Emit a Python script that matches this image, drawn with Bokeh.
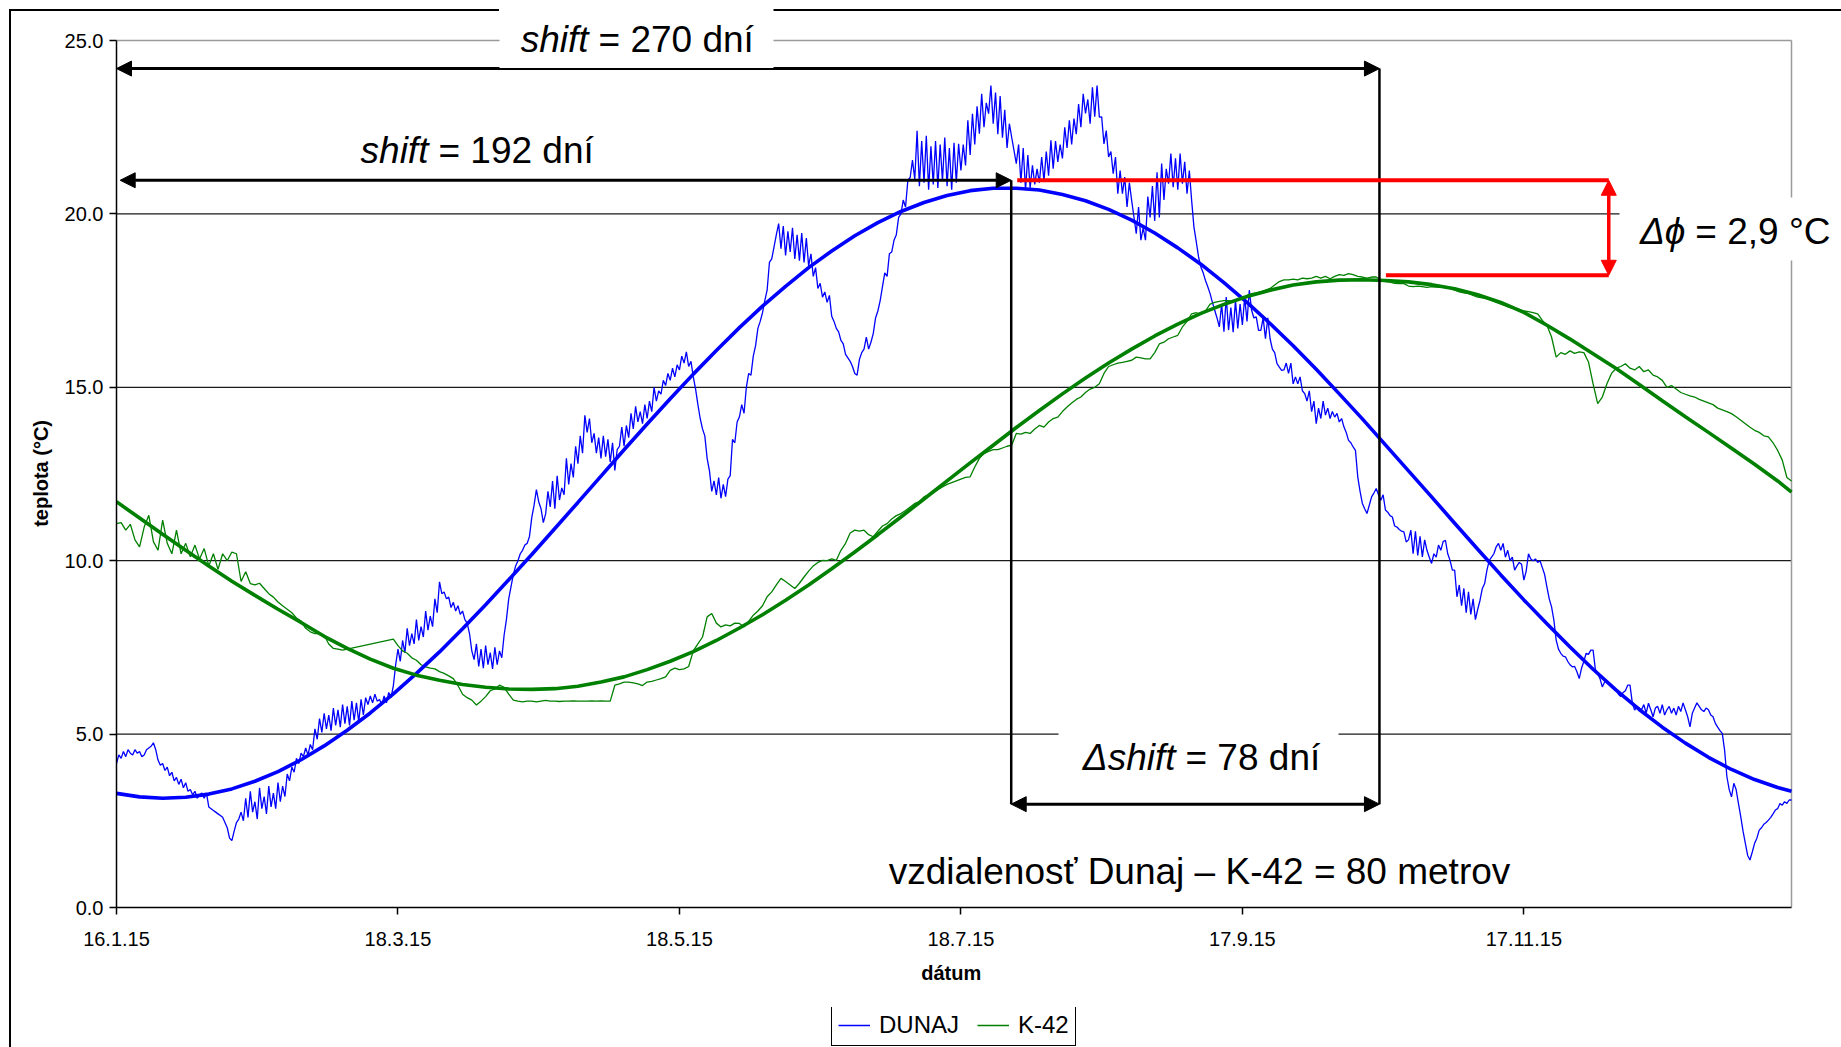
import pandas as pd
from bokeh.plotting import figure
from bokeh.layouts import column
from bokeh.models import (Range1d, FixedTicker, NumeralTickFormatter, BoxAnnotation,
                          Arrow, NormalHead, Label, Legend, LegendItem)
from bokeh.embed import file_html
from bokeh.resources import INLINE

# ---------------- data ----------------
START = pd.Timestamp("2015-01-16")
N_DAYS = 363

x_tick_labels = ["16.1.15", "18.3.15", "18.5.15", "18.7.15", "17.9.15", "17.11.15"]
y_ticks = [0, 5, 10, 15, 20, 25]
grid_levels = [5, 10, 15, 20]
series_names = ["DUNAJ", "K-42"]

# DUNAJ river temperature, one reading every 12 hours (day 0 .. day 363)
dunaj = [
    4.15, 4.40, 4.30, 4.50, 4.35, 4.55, 4.45, 4.40, 4.55, 4.45, 4.50, 4.35, 4.40, 4.55, 4.60, 4.65, 4.75, 4.55, 4.25, 4.10,
    4.15, 3.95, 4.05, 3.80, 3.90, 3.65, 3.75, 3.55, 3.70, 3.45, 3.60, 3.35, 3.40, 3.25, 3.35, 3.15, 3.25, 3.30, 3.15, 3.30,
    2.90, 2.85, 2.80, 2.75, 2.70, 2.65, 2.60, 2.45, 2.30, 2.00, 1.93, 2.20, 2.45, 2.55, 2.75, 2.50, 3.15, 2.60, 3.35, 2.75,
    3.05, 2.55, 3.45, 2.85, 3.20, 2.70, 3.50, 2.90, 3.30, 2.85, 3.60, 3.05, 3.50, 3.20, 3.85, 3.65, 4.05, 3.90, 4.30, 4.15,
    4.45, 4.35, 4.60, 4.40, 4.70, 4.55, 5.15, 4.85, 5.45, 5.05, 5.60, 5.15, 5.55, 5.10, 5.75, 5.25, 5.70, 5.20, 5.85, 5.30,
    5.80, 5.25, 5.95, 5.40, 5.90, 5.35, 6.00, 5.55, 6.05, 5.85, 6.10, 5.90, 6.15, 5.95, 6.00, 5.85, 6.10, 5.90, 6.20, 6.05,
    6.40, 7.00, 7.45, 7.10, 7.70, 7.35, 8.05, 7.55, 7.90, 7.60, 8.30, 7.70, 8.10, 7.80, 8.55, 8.00, 8.40, 8.10, 8.90, 8.50,
    9.39, 9.05, 9.10, 8.90, 8.95, 8.65, 8.80, 8.55, 8.70, 8.45, 8.55, 8.30, 8.20, 7.90, 7.40, 7.15, 7.60, 6.95, 7.45, 6.90,
    7.55, 7.00, 7.35, 6.88, 7.50, 7.00, 7.40, 7.20, 7.85, 8.30, 8.90, 9.25, 9.60, 9.85, 10.00, 10.20, 10.30, 10.45, 10.50, 10.70,
    11.25, 11.60, 12.05, 11.70, 11.50, 11.10, 11.35, 12.00, 11.55, 12.30, 11.50, 12.45, 11.75, 12.10, 11.90, 12.95, 12.20, 12.80, 12.40, 13.30,
    12.80, 13.60, 13.10, 14.19, 13.70, 14.10, 13.40, 13.67, 13.10, 13.55, 12.95, 13.60, 13.00, 13.50, 12.85, 13.40, 12.60, 13.20, 13.30, 13.85,
    13.30, 13.90, 13.55, 14.25, 13.80, 14.45, 14.00, 14.30, 13.95, 14.50, 14.10, 14.60, 14.30, 15.00, 14.60, 14.90, 14.80, 15.20, 15.05, 15.40,
    15.20, 15.55, 15.30, 15.65, 15.50, 15.90, 15.70, 16.02, 15.60, 15.75, 15.30, 14.95, 14.50, 14.10, 13.80, 13.60, 12.95, 12.60, 12.00, 12.30,
    11.90, 12.40, 11.80, 12.20, 11.85, 12.35, 12.45, 13.50, 13.40, 14.00, 14.15, 14.50, 14.25, 15.00, 15.40, 15.35, 15.90, 16.20, 16.70, 16.90,
    17.15, 17.50, 17.80, 18.60, 18.70, 19.05, 19.40, 19.72, 19.00, 19.65, 18.80, 19.50, 18.90, 19.60, 18.70, 19.40, 18.65, 19.45, 18.60, 19.30,
    18.50, 18.85, 18.20, 18.45, 17.85, 18.00, 17.60, 17.75, 17.45, 17.65, 17.05, 16.90, 16.70, 16.60, 16.35, 16.25, 15.95, 15.85, 15.75, 15.60,
    15.40, 15.35, 15.80, 16.00, 16.10, 16.45, 16.10, 16.30, 16.55, 17.00, 17.20, 17.50, 17.90, 18.30, 18.20, 18.85, 18.90, 19.24, 19.40, 19.90,
    20.00, 20.40, 20.20, 20.97, 21.05, 21.55, 21.00, 22.40, 20.80, 22.10, 20.90, 22.25, 20.70, 21.95, 20.85, 22.10, 20.75, 22.00, 20.95, 22.20,
    20.80, 21.90, 20.70, 22.05, 20.90, 22.02, 21.25, 22.00, 21.40, 22.70, 21.70, 22.89, 22.00, 23.10, 22.31, 23.46, 22.50, 23.20, 22.89, 23.70,
    22.60, 23.50, 22.30, 23.40, 22.20, 23.00, 21.90, 22.60, 22.21, 21.83, 21.45, 22.00, 20.90, 21.90, 20.68, 21.70, 20.75, 21.40, 20.85, 21.30,
    20.90, 21.64, 20.95, 21.80, 21.10, 22.12, 21.30, 22.10, 21.50, 22.00, 21.60, 22.50, 21.90, 22.70, 22.00, 22.75, 22.30, 23.17, 22.50, 23.46,
    22.90, 23.30, 22.60, 23.65, 22.80, 23.70, 22.79, 22.80, 22.02, 22.40, 21.64, 21.80, 21.16, 21.64, 20.58, 21.25, 20.58, 21.06, 20.20, 20.90,
    20.39, 19.91, 19.43, 20.20, 19.24, 19.60, 19.24, 20.50, 19.90, 20.80, 19.80, 21.20, 19.90, 21.45, 20.40, 21.30, 20.87, 21.74, 20.77, 21.60,
    20.70, 21.74, 20.87, 21.50, 20.58, 21.25, 20.39, 19.62, 19.20, 18.76, 18.47, 18.30, 18.08, 17.90, 17.70, 17.45, 17.22, 17.00, 16.74, 17.40,
    16.60, 17.60, 16.65, 17.30, 16.59, 17.50, 16.70, 17.40, 16.80, 17.60, 16.90, 17.80, 17.22, 17.00, 17.03, 16.64, 16.64, 17.00, 16.40, 17.00,
    16.40, 16.10, 16.00, 15.68, 15.58, 15.49, 15.50, 15.70, 15.40, 15.70, 15.10, 15.30, 15.10, 15.30, 14.90, 14.82, 14.60, 14.90, 14.30, 14.60,
    13.95, 14.40, 14.10, 14.60, 14.20, 14.40, 14.10, 14.30, 14.14, 14.25, 14.00, 14.10, 13.86, 13.70, 13.47, 13.40, 13.28, 13.18, 12.42, 12.00,
    11.65, 11.50, 11.36, 11.60, 11.84, 11.95, 12.08, 11.90, 11.74, 11.90, 11.46, 11.40, 11.30, 11.26, 11.00, 10.97, 10.90, 10.85, 10.83, 10.54,
    10.60, 10.88, 10.20, 10.85, 10.15, 10.70, 10.11, 10.60, 10.30, 10.10, 9.92, 10.20, 10.10, 10.45, 10.30, 10.55, 10.59, 10.20, 10.01, 9.73,
    9.73, 8.96, 9.30, 8.70, 9.20, 8.50, 9.10, 8.45, 8.90, 8.30, 8.60, 8.86, 9.20, 9.34, 9.73, 10.01, 10.10, 10.20, 10.40, 10.50,
    10.30, 10.50, 10.10, 10.30, 10.00, 10.10, 9.73, 9.85, 9.95, 9.90, 9.44, 9.70, 10.20, 10.05, 10.00, 10.05, 9.95, 10.00, 9.80, 9.60,
    9.24, 8.90, 8.67, 8.29, 7.71, 7.45, 7.33, 7.25, 7.23, 7.10, 7.00, 6.94, 6.95, 6.80, 6.60, 6.90, 7.10, 7.33, 7.30, 7.42,
    7.42, 6.86, 6.75, 6.60, 6.36, 6.50, 6.55, 6.46, 6.35, 6.30, 6.27, 6.15, 6.08, 6.20, 6.25, 6.41, 6.41, 5.90, 5.69, 5.80,
    5.75, 5.70, 5.85, 5.60, 5.89, 5.70, 5.50, 5.75, 5.80, 5.60, 5.85, 5.55, 5.70, 5.80, 5.60, 5.75, 5.55, 5.80, 5.65, 5.90,
    5.70, 5.50, 5.21, 5.60, 5.75, 5.90, 5.80, 5.70, 5.65, 5.75, 5.70, 5.55, 5.50, 5.31, 5.20, 5.10, 5.02, 4.54, 3.77, 3.40,
    3.19, 3.58, 3.40, 3.00, 2.62, 2.20, 1.85, 1.50, 1.37, 1.60, 1.85, 2.00, 2.23, 2.30, 2.40, 2.45, 2.52, 2.60, 2.70, 2.81,
    2.85, 3.00, 2.95, 3.05, 3.00, 3.10, 3.10,
]

# K-42 well temperature, daily; days 0-49, then (after a gap) days 60-363
k42_days = list(range(0, 50)) + list(range(60, 364))
k42 = [
    11.07, 11.10, 10.88, 11.05, 10.60, 10.40, 10.97, 11.31, 10.55, 10.30,
    11.17, 10.50, 10.20, 10.88, 10.20, 10.50, 10.11, 10.45, 10.05, 10.35,
    9.85, 10.20, 9.75, 10.20, 10.00, 10.25, 10.20, 9.40, 9.68, 9.34,
    9.30, 9.35, 9.20, 9.05, 8.95, 8.81, 8.70, 8.60, 8.50, 8.35,
    8.25, 8.05, 7.95, 7.90, 7.90, 7.85, 7.60, 7.47, 7.45, 7.42,
    7.74, 7.55, 7.40, 7.33, 7.20, 7.13, 7.00, 6.94, 6.90, 6.88,
    6.80, 6.75, 6.68, 6.60, 6.40, 6.15, 6.05, 5.98, 5.84, 5.95,
    6.08, 6.25, 6.30, 6.41, 6.35, 6.15, 5.98, 5.95, 5.93, 5.95,
    5.95, 5.93, 5.95, 5.97, 5.95, 5.95, 5.94, 5.95, 5.95, 5.96,
    5.95, 5.95, 5.95, 5.96, 5.95, 5.96, 5.95, 5.95, 6.41, 6.45,
    6.50, 6.50, 6.48, 6.45, 6.40, 6.50, 6.52, 6.56, 6.60, 6.65,
    6.84, 6.90, 6.86, 6.88, 6.95, 7.40, 7.60, 7.80, 8.38, 8.48,
    8.20, 8.09, 8.15, 8.12, 8.20, 8.19, 8.09, 8.25, 8.43, 8.55,
    8.70, 8.96, 9.10, 9.30, 9.49, 9.40, 9.30, 9.20, 9.35, 9.53,
    9.70, 9.85, 9.95, 10.01, 10.00, 10.05, 10.01, 10.30, 10.50, 10.80,
    10.88, 10.85, 10.88, 10.75, 10.69, 10.85, 11.00, 11.07, 11.20, 11.30,
    11.36, 11.45, 11.55, 11.65, 11.70, 11.84, 11.90, 11.95, 12.05, 12.13,
    12.20, 12.25, 12.30, 12.35, 12.40, 12.42, 12.70, 12.95, 13.09, 13.15,
    13.20, 13.20, 13.25, 13.30, 13.33, 13.67, 13.65, 13.70, 13.67, 13.80,
    13.90, 13.85, 14.00, 14.10, 14.14, 14.30, 14.43, 14.55, 14.65, 14.72,
    14.85, 14.95, 15.00, 15.10, 15.40, 15.60, 15.65, 15.70, 15.72, 15.75,
    15.78, 15.87, 15.85, 15.82, 15.82, 16.00, 16.25, 16.30, 16.40, 16.45,
    16.50, 16.74, 16.90, 17.12, 17.15, 17.10, 17.20, 17.40, 17.45, 17.48,
    17.50, 17.50, 17.48, 17.52, 17.55, 17.65, 17.70, 17.72, 17.75, 17.80,
    17.85, 17.95, 18.05, 18.10, 18.10, 18.12, 18.10, 18.15, 18.13, 18.15,
    18.20, 18.15, 18.20, 18.13, 18.20, 18.25, 18.23, 18.28, 18.25, 18.20,
    18.18, 18.15, 18.18, 18.18, 18.10, 18.05, 18.03, 18.00, 17.99, 17.99,
    17.92, 17.90, 17.92, 17.90, 17.88, 17.90, 17.89, 17.88, 17.89, 17.85,
    17.80, 17.75, 17.72, 17.70, 17.65, 17.60, 17.58, 17.55, 17.50, 17.45,
    17.40, 17.35, 17.30, 17.27, 17.25, 17.20, 17.18, 17.15, 17.12, 16.93,
    16.79, 16.45, 15.87, 16.00, 15.95, 16.05, 15.98, 16.02, 16.00, 15.73,
    15.10, 14.53, 14.72, 15.10, 15.40, 15.55, 15.60, 15.68, 15.55, 15.50,
    15.60, 15.45, 15.50, 15.35, 15.30, 15.20, 15.00, 15.05, 14.95, 14.85,
    14.80, 14.75, 14.72, 14.65, 14.60, 14.55, 14.50, 14.40, 14.35, 14.30,
    14.24, 14.15, 14.05, 13.95, 13.85, 13.76, 13.70, 13.60, 13.57, 13.40,
    13.18, 12.90, 12.40, 12.30,
]

# fitted annual curves, read every 5 days
fit_days = list(range(0, 361, 5)) + [363]
dunaj_fit = [
    3.29, 3.19, 3.15, 3.18, 3.27, 3.42, 3.64, 3.92, 4.26, 4.66,
    5.11, 5.61, 6.16, 6.75, 7.37, 8.04, 8.73, 9.45, 10.18, 10.93,
    11.68, 12.44, 13.20, 13.94, 14.67, 15.38, 16.06, 16.72, 17.34, 17.91,
    18.45, 18.93, 19.37, 19.75, 20.07, 20.33, 20.53, 20.67, 20.74, 20.74,
    20.69, 20.56, 20.38, 20.13, 19.82, 19.45, 19.02, 18.55, 18.02, 17.45,
    16.84, 16.20, 15.52, 14.81, 14.09, 13.34, 12.59, 11.84, 11.08, 10.33,
    9.59, 8.87, 8.18, 7.51, 6.87, 6.27, 5.71, 5.20, 4.74, 4.33,
    3.98, 3.69, 3.46, 3.35,
]
k42_fit = [
    11.70, 11.23, 10.76, 10.30, 9.85, 9.41, 9.00, 8.60, 8.22, 7.82,
    7.47, 7.16, 6.90, 6.70, 6.55, 6.43, 6.35, 6.30, 6.29, 6.31,
    6.38, 6.50, 6.65, 6.86, 7.10, 7.38, 7.70, 8.06, 8.44, 8.86,
    9.30, 9.77, 10.25, 10.75, 11.26, 11.78, 12.30, 12.82, 13.33, 13.84,
    14.33, 14.81, 15.27, 15.70, 16.10, 16.48, 16.82, 17.13, 17.39, 17.62,
    17.80, 17.95, 18.04, 18.09, 18.10, 18.08, 18.04, 17.96, 17.84, 17.67,
    17.45, 17.16, 16.79, 16.39, 15.97, 15.54, 15.08, 14.61, 14.15, 13.70,
    13.24, 12.78, 12.30, 11.98,
]

assert len(dunaj) == 2 * N_DAYS + 1
assert len(k42) == len(k42_days)
assert len(dunaj_fit) == len(fit_days) == len(k42_fit)

# annotation values (days from start, °C)
SHIFT_192_END = 193.9
SHIFT_270_END = 273.7
RED_X = 323.4
Y_270 = 24.19
Y_192 = 20.97
Y_K42_MAX = 18.23
Y_DSHIFT = 2.98

FONT = "Liberation Sans"
W = 1841
H_MAIN, H_LEGEND = 1007, 40
FRAME_LEFT, FRAME_BOTTOM = 116, 100
PLOT_TOP_PX, PLOT_RIGHT_PX = 40, 1791   # where 25 °C and the last day sit
BLUE, GREEN, RED = "#0000FF", "#008000", "#FF0000"
NBSP = "\u00a0"


def ms(day):
    return (START + pd.Timedelta(days=day)).value / 1e6


dunaj_x = pd.date_range(START, periods=len(dunaj), freq="12h")
k42_x = [START + pd.Timedelta(days=d) for d in k42_days]
fit_x = [START + pd.Timedelta(days=d) for d in fit_days]
tick_ms = [pd.to_datetime(t, format="%d.%m.%y").value / 1e6 for t in x_tick_labels]

frame_h = H_MAIN - FRAME_BOTTOM
frame_w = W - FRAME_LEFT
y_end = 25 * frame_h / (frame_h - PLOT_TOP_PX)
x_end_day = N_DAYS * frame_w / (PLOT_RIGHT_PX - FRAME_LEFT)

# ---------------- main figure ----------------
p = figure(width=W, height=H_MAIN, x_axis_type="datetime",
           x_range=Range1d(start=ms(0), end=ms(x_end_day)), y_range=Range1d(start=0, end=y_end),
           output_backend="svg", toolbar_location=None,
           min_border_left=FRAME_LEFT, min_border_right=0, min_border_top=0,
           min_border_bottom=FRAME_BOTTOM)
p.outline_line_color = None
p.background_fill_alpha = 0
p.border_fill_alpha = 0
p.grid.visible = False

for ax in (p.xaxis[0], p.yaxis[0]):
    ax.axis_line_color = "black"
    ax.axis_line_width = 1.5
    ax.major_tick_line_color = "black"
    ax.major_tick_line_width = 1.5
    ax.major_tick_out = 7
    ax.major_tick_in = 0
    ax.minor_tick_line_color = None
    ax.major_label_text_font = FONT
    ax.major_label_text_font_size = "20px"
    ax.major_label_text_color = "black"
    ax.axis_label_text_font = FONT
    ax.axis_label_text_font_size = "20px"
    ax.axis_label_text_font_style = "bold"
    ax.axis_label_text_color = "black"

p.xaxis.bounds = (ms(0), ms(N_DAYS))
p.xaxis.ticker = FixedTicker(ticks=tick_ms)
p.xaxis.major_label_overrides = {t: lab for t, lab in zip(tick_ms, x_tick_labels)}
p.xaxis.major_label_standoff = 17
# trailing no-break spaces centre the title under the plot area rather than the whole frame
p.xaxis.axis_label = "dátum" + NBSP * 10
p.xaxis.axis_label_standoff = 13

p.yaxis.bounds = (0, 25)
p.yaxis.ticker = FixedTicker(ticks=y_ticks)
p.yaxis.formatter = NumeralTickFormatter(format="0.0")
p.yaxis.major_label_standoff = 6
p.yaxis.axis_label = "teplota (°C)" + NBSP * 7
p.yaxis.axis_label_standoff = 10

# horizontal grid lines and grey plot-area border (top & right)
p.segment(x0=[ms(0)] * len(grid_levels), y0=grid_levels,
          x1=[ms(N_DAYS)] * len(grid_levels), y1=grid_levels,
          line_color="#1a1a1a", line_width=1.2, level="underlay")
p.segment(x0=[ms(0), ms(N_DAYS)], y0=[y_ticks[-1], 0],
          x1=[ms(N_DAYS), ms(N_DAYS)], y1=[y_ticks[-1], y_ticks[-1]],
          line_color="#9a9a9a", line_width=1.5, level="underlay")

# measured series (thin) and fitted curves (thick)
p.line(dunaj_x, dunaj, line_color=BLUE, line_width=1.3)
p.line(k42_x, k42, line_color=GREEN, line_width=1.3)
p.line(fit_x, dunaj_fit, line_color=BLUE, line_width=3.6)
p.line(fit_x, k42_fit, line_color=GREEN, line_width=3.6)


def head(color):
    return NormalHead(size=15, fill_color=color, line_color=color, line_width=1)


def line_ann(x0, y0, x1, y1, color, width, start=False, end=False):
    p.add_layout(Arrow(x_start=x0, y_start=y0, x_end=x1, y_end=y1,
                       start=head(color) if start else None,
                       end=head(color) if end else None,
                       line_color=color, line_width=width))


# black shift arrows and guide lines
line_ann(ms(0), Y_270, ms(SHIFT_270_END), Y_270, "black", 3, start=True, end=True)
line_ann(ms(SHIFT_270_END), Y_270, ms(SHIFT_270_END), Y_DSHIFT, "black", 2.5)
line_ann(ms(0.8), Y_192, ms(SHIFT_192_END), Y_192, "black", 3, start=True, end=True)
line_ann(ms(SHIFT_192_END), Y_192, ms(SHIFT_192_END), Y_DSHIFT, "black", 2.5)
line_ann(ms(SHIFT_192_END), Y_DSHIFT, ms(SHIFT_270_END), Y_DSHIFT, "black", 3, start=True, end=True)
# red amplitude difference
line_ann(ms(195.2), Y_192, ms(RED_X), Y_192, RED, 4)
line_ann(ms(275.1), Y_K42_MAX, ms(RED_X), Y_K42_MAX, RED, 4)
line_ann(ms(RED_X), Y_K42_MAX, ms(RED_X), Y_192, RED, 3.5, start=True, end=True)


def white_box(left, right, top, bottom):
    p.add_layout(BoxAnnotation(left=left, right=right, top=top, bottom=bottom,
                               left_units="canvas", right_units="canvas",
                               top_units="canvas", bottom_units="canvas",
                               fill_color="white", fill_alpha=1, line_color=None))


white_box(499, 773, 0, 67.5)
white_box(1619, 1841, 197, 260)
white_box(1058, 1338, 722, 785)


def label(day, y, text, align, style="normal", dx=0, dy=11, size="37px"):
    p.add_layout(Label(x=ms(day), y=y, text=text, text_align=align, text_baseline="alphabetic",
                       x_offset=dx, y_offset=dy, text_font=FONT, text_font_size=size,
                       text_font_style=style, text_color="black"))


SP = 10  # width of a space in the annotation font
label(102.3, 24.71, "shift", "right", "italic")
label(102.3, 24.71, "= 270 dní", "left", dx=SP)
label(67.6, 21.47, "shift", "right", "italic", dy=12)
label(67.6, 21.47, "= 192 dní", "left", dx=SP, dy=12)
label(229.5, 3.98, "Δshift", "right", "italic", dy=12)
label(229.5, 3.98, "= 78 dní", "left", dx=SP, dy=12)
label(340.0, 19.22, "Δϕ", "right", "italic", dy=9.5)
label(340.0, 19.22, "= 2,9 °C", "left", dx=SP, dy=9.5)
label(234.7, 0.77, "vzdialenosť Dunaj – K-42 = 80 metrov", "center", dy=9.5)

# ---------------- legend strip under the chart ----------------
pl = figure(width=W, height=H_LEGEND, output_backend="svg", toolbar_location=None,
            x_range=Range1d(start=0, end=1), y_range=Range1d(start=0, end=1),
            x_axis_location=None, y_axis_location=None,
            min_border_left=FRAME_LEFT, min_border_right=0, min_border_top=0, min_border_bottom=0)
pl.outline_line_color = None
pl.grid.visible = False
pl.background_fill_alpha = 0
pl.border_fill_alpha = 0
# legend keys: same line styles as the measured series (kept outside the visible range)
key_d = pl.line(x=[-2, -1], y=[-2, -1], line_color=BLUE, line_width=1.5)
key_k = pl.line(x=[-2, -1], y=[-2, -1], line_color=GREEN, line_width=1.5)
legend = Legend(items=[LegendItem(label=series_names[0], renderers=[key_d]),
                       LegendItem(label=series_names[1], renderers=[key_k])],
                orientation="horizontal", location=(831 - FRAME_LEFT, 1),
                border_line_color="black", border_line_width=1, border_line_alpha=1,
                background_fill_color="white", background_fill_alpha=1,
                padding=6, spacing=18, label_standoff=9, glyph_width=32, glyph_height=20,
                margin=0, label_text_font=FONT, label_text_font_size="24px",
                label_text_color="black")
pl.add_layout(legend)

page = column(p, pl, spacing=0)
# outer chart-area border (left and top edge, broken behind the top text box)
page.styles = {
    "background-color": "white",
    "background-image": "linear-gradient(#000,#000), linear-gradient(#000,#000), linear-gradient(#000,#000)",
    "background-size": "489px 2px, 1100px 2px, 2px 1100px",
    "background-position": "10px 9px, 773px 9px, 9px 9px",
    "background-repeat": "no-repeat",
}

open("out.html", "w").write(file_html(page, INLINE))
